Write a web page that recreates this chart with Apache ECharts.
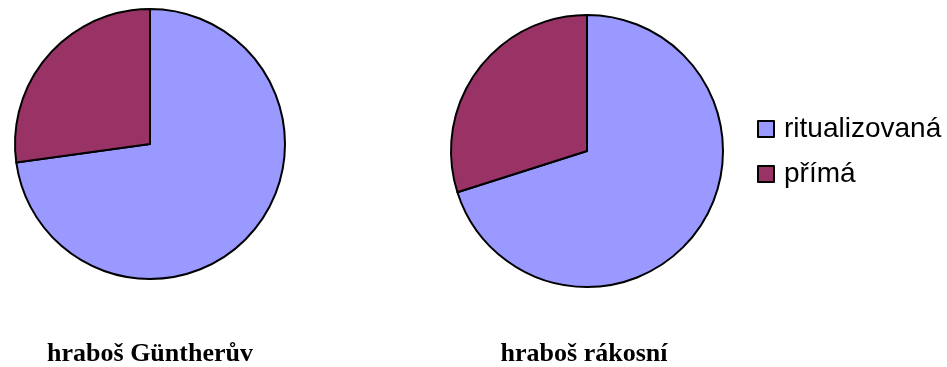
<!DOCTYPE html>
<html>
<head>
<meta charset="utf-8">
<script src="https://cdn.jsdelivr.net/npm/echarts@6/dist/echarts.min.js"></script>
<style>html,body{margin:0;padding:0;background:#fff}#c{width:947px;height:367px}</style>
</head>
<body>
<div id="c"></div>
<script>
const categories = ['ritualizovaná', 'přímá'];
const pieTitles = ['hraboš Güntherův', 'hraboš rákosní'];
const valuesGuenther = [72.8, 27.2];
const valuesRakosni = [70.1, 29.9];
const colors = ['#9999FF', '#993366'];

const chart = echarts.init(document.getElementById('c'), null, {renderer: 'canvas'});
function mk(vals) { return categories.map((n, i) => ({name: n, value: vals[i], itemStyle: {color: colors[i]}})); }
const pieBase = {
  type: 'pie', startAngle: 90, clockwise: true, label: {show: false}, labelLine: {show: false},
  silent: true, animation: false,
  itemStyle: {borderColor: '#000', borderWidth: 2}, emphasis: {disabled: true}
};
const titleStyle = {fontFamily: 'Liberation Serif', fontWeight: 'bold', fontSize: 26, color: '#000'};
chart.setOption({
  animation: false,
  backgroundColor: '#fff',
  title: [
    {text: pieTitles[0], left: 150, top: 341, padding: 0, textAlign: 'center', textStyle: titleStyle},
    {text: pieTitles[1], left: 584, top: 341, padding: 0, textAlign: 'center', textStyle: titleStyle}
  ],
  legend: {
    orient: 'vertical', left: 757, top: 115, padding: 0, icon: 'rect', itemWidth: 16, itemHeight: 16, itemGap: 17,
    data: categories,
    itemStyle: {borderColor: '#000', borderWidth: 2},
    textStyle: {fontFamily: 'Liberation Sans', fontSize: 28, lineHeight: 28, color: '#000', padding: [0, 0, 0, 5]}
  },
  series: [
    Object.assign({}, pieBase, {center: [150, 144], radius: 135, data: mk(valuesGuenther)}),
    Object.assign({}, pieBase, {center: [587, 151], radius: 136, data: mk(valuesRakosni)})
  ]
});
</script>
</body>
</html>
